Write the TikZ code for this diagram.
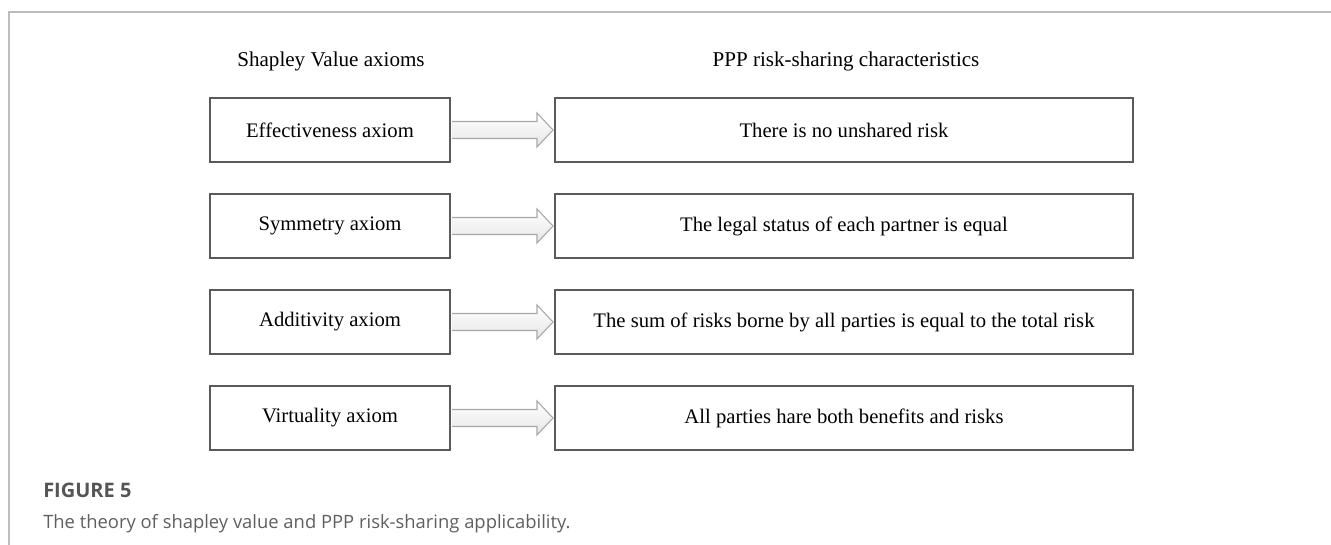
\documentclass[tikz,border=0pt]{standalone}
\usepackage{fontspec}
\setmainfont{Liberation Serif}
\newfontfamily\capfont{Open Sans}
\usetikzlibrary{calc}
\definecolor{boxline}{HTML}{5A5A5A}
\definecolor{framecol}{HTML}{BDBDBD}
\definecolor{arrline}{HTML}{A8A8A8}
\definecolor{capgray}{HTML}{5F5F5F}
\definecolor{figgray}{HTML}{555555}
\tikzset{
  leftbox/.style={draw=boxline, line width=1.5pt, minimum width=180pt, minimum height=48pt, inner sep=0pt, font=\fontsize{15.5}{18}\selectfont},
  rightbox/.style={draw=boxline, line width=1.5pt, minimum width=433.5pt, minimum height=48pt, inner sep=0pt, font=\fontsize{15.5}{18}\selectfont},
  header/.style={font=\fontsize{15.8}{18}\selectfont, inner sep=0pt},
  fatarrow/.style={draw=arrline, line width=0.8pt, top color=white, bottom color=black!10, line join=miter},
  framestyle/.style={draw=framecol, line width=1.2pt},
}
\begin{document}
\begin{tikzpicture}[x=0.75pt, y=-0.75pt]
\useasboundingbox (0,0) rectangle (1331,545);
\draw[framestyle] (9,545) -- (9,12) -- (1331,12);
\node[header] (h1) at (331,61) {Shapley Value axioms};
\node[header] (h2) at (846,61) {PPP risk-sharing characteristics};
\foreach \i/\y/\lt/\rt in {1/130/Effectiveness axiom/There is no unshared risk,
  2/226/Symmetry axiom/The legal status of each partner is equal,
  3/322/Additivity axiom/The sum of risks borne by all parties is equal to the total risk,
  4/418/Virtuality axiom/All parties hare both benefits and risks}{
  \node[leftbox] (L\i) at (330,\y) {\lt};
  \node[rightbox] (R\i) at (844,\y) {\rt};
  \draw[fatarrow] ($(L\i.east)+(1,-8.5)$) -- ($(R\i.west)+(-17,-8.5)$) -- ($(R\i.west)+(-17,-17)$) -- ($(R\i.west)+(-1,0)$) -- ($(R\i.west)+(-17,17)$) -- ($(R\i.west)+(-17,8.5)$) -- ($(L\i.east)+(1,8.5)$);
}
\node[anchor=base west, inner sep=0pt, text=figgray, font=\capfont\bfseries\fontsize{15}{18}\selectfont] (fig) at (43,497) {FIGURE 5};
\node[anchor=base west, inner sep=0pt, text=capgray, font=\capfont\fontsize{13.8}{16}\selectfont] (cap) at (43,528) {The theory of shapley value and PPP risk-sharing applicability.};
\end{tikzpicture}
\end{document}
